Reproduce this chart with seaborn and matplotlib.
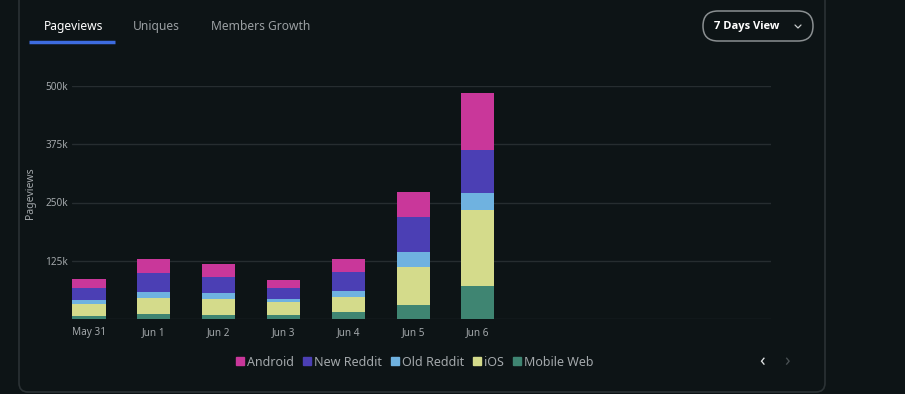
import numpy as np
import pandas as pd
import seaborn as sns
import matplotlib.pyplot as plt
from matplotlib.patches import FancyBboxPatch
from matplotlib.lines import Line2D
from matplotlib.ticker import FuncFormatter

# Pageviews per day by platform (thousands)
days = ["May 31", "Jun 1", "Jun 2", "Jun 3", "Jun 4", "Jun 5", "Jun 6"]
mobile_web = [7.0, 10.7, 8.6, 7.9, 14.3, 29.3, 71.4]
ios = [25.0, 33.6, 33.5, 27.8, 32.1, 81.4, 161.5]
old_reddit = [8.6, 14.3, 12.9, 7.2, 14.3, 32.2, 37.1]
new_reddit = [25.7, 40.0, 34.3, 23.5, 40.0, 75.7, 92.9]
android = [18.6, 29.3, 28.6, 17.2, 27.2, 55.0, 121.4]

platforms = ["Android", "New Reddit", "Old Reddit", "iOS", "Mobile Web"]
colors = ["#c9379a", "#4b3fb4", "#6fb2e0", "#d4db8b", "#3f8572"]
gridlines = [0, 125000, 250000, 375000, 500000]
yticks = [125000, 250000, 375000, 500000]

bg = "#0d1416"
grid_c = "#262d30"
text_c = "#a3a8ab"

df = pd.DataFrame({"day": days, "Mobile Web": mobile_web, "iOS": ios,
                   "Old Reddit": old_reddit, "New Reddit": new_reddit,
                   "Android": android})
for p in platforms:
    df[p] = df[p] * 1000

sns.set_theme(style="dark")
plt.rcParams["font.family"] = ["Noto Sans", "DejaVu Sans"]

fig = plt.figure(figsize=(9.05, 3.94), dpi=100, facecolor=bg)

# background layer in pixel coordinates for the card, tabs and buttons
bg_ax = fig.add_axes([0, 0, 1, 1], zorder=-1)
bg_ax.set_xlim(0, 905)
bg_ax.set_ylim(394, 0)
bg_ax.axis("off")
bg_ax.add_patch(FancyBboxPatch((19, -30), 806, 422,
                               boxstyle="round,pad=0,rounding_size=9",
                               facecolor=bg, edgecolor="#2b3235", lw=1.2))
bg_ax.add_patch(FancyBboxPatch((703, 11), 110, 30,
                               boxstyle="round,pad=0,rounding_size=15",
                               facecolor="none", edgecolor="#8a8f91", lw=1.1))
bg_ax.plot([29, 115], [41.5, 41.5], color="#3d6ce0", lw=2.5,
           solid_capstyle="butt")
bg_ax.text(44, 26, "Pageviews", color="white", fontsize=8.7, va="center",
           fontweight="semibold")
bg_ax.text(133, 26, "Uniques", color="#9a9fa2", fontsize=8.7, va="center")
bg_ax.text(211, 26, "Members Growth", color="#9a9fa2", fontsize=8.7,
           va="center")
bg_ax.text(714, 26, "7 Days View", color="white", fontsize=8,
           va="center", fontweight="bold", family=["Open Sans"])
bg_ax.plot([795, 798, 801], [25, 28, 25], color="#c8cccd", lw=0.9)
bg_ax.text(762, 361, "‹", color="#e0e3e4", fontsize=13,
           va="center", ha="center")
bg_ax.text(787, 361, "›", color="#4a5154", fontsize=13,
           va="center", ha="center")

ax = fig.add_axes([72 / 905, 75 / 394, 699 / 905, 233 / 394])
ax.set_facecolor("none")

# stacked bars: draw running totals from the top layer down
for i, p in enumerate(platforms):
    total = df[platforms[i:]].sum(axis=1)
    sns.barplot(x=df["day"], y=total, color=colors[i], width=0.51,
                linewidth=0, saturation=1, ax=ax, zorder=3)

ax.set_xlim(-0.262, 10.52)
ax.set_ylim(0, 500000)
ax.set_yticks(yticks)
ax.yaxis.set_major_formatter(FuncFormatter(lambda v, _: f"{int(v / 1000)}k"))
for y in gridlines:
    ax.axhline(y, color=grid_c, lw=1, zorder=1)
ax.grid(False)
for s in ax.spines.values():
    s.set_visible(False)
ax.tick_params(axis="both", length=0, colors=text_c, labelsize=7.2)
ax.tick_params(axis="x", pad=6)
ax.tick_params(axis="y", pad=3)
ax.set_xlabel("")
ax.set_ylabel("Pageviews", color=text_c, fontsize=7.5)
ax.yaxis.set_label_coords(-0.052, 0.54)

# legend
handles = [Line2D([], [], marker="s", linestyle="", markersize=5.5,
                  color=c) for c in colors]
leg = fig.legend(handles, platforms, loc="center", ncol=5,
                 bbox_to_anchor=(414 / 905, 1 - 362 / 394), frameon=False,
                 fontsize=9, handletextpad=0.1, columnspacing=0.6,
                 handlelength=0.9)
for t in leg.get_texts():
    t.set_color(text_c)

fig.savefig("out.png", dpi=100, facecolor=bg)
